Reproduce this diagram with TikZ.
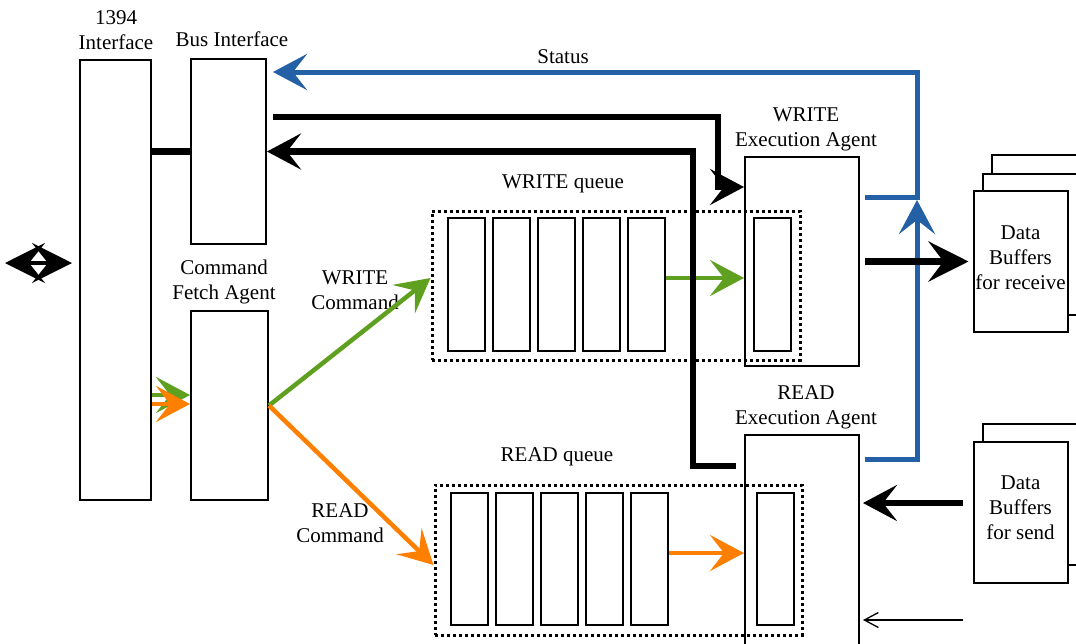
\documentclass[tikz,border=0pt]{standalone}
\usepackage{fontspec}
\setmainfont{Liberation Serif}
\usetikzlibrary{arrows.meta}
\definecolor{statusblue}{RGB}{35,96,165}
\definecolor{cmdgreen}{RGB}{96,160,32}
\definecolor{cmdorange}{RGB}{255,128,0}

\begin{document}
\begin{tikzpicture}[x=1pt,y=-1pt,
    font=\fontsize{21}{25}\selectfont,
    box/.style={draw,line width=2pt,inner sep=0pt},
    slot/.style={draw,line width=2pt,inner sep=0pt,minimum width=37pt},
    queue/.style={draw,line width=3pt,dash pattern=on 3pt off 3pt,inner sep=0pt},
    page/.style={draw,line width=2pt,fill=white,inner sep=0pt,minimum width=94pt,minimum height=141pt},
    lbl/.style={align=center,inner sep=0pt},
    barb/.tip={Stealth[length=34pt,width=36pt,inset=14pt]},
    bigbarb/.tip={Stealth[length=40pt,width=40pt,inset=15pt]},
    heavy/.style={line width=6.5pt},
    status/.style={statusblue,line width=5pt},
    wcmd/.style={cmdgreen,line width=4.5pt},
    rcmd/.style={cmdorange,line width=4.5pt}]
    \clip (0,0) rectangle (1076,643);

    \node[box,minimum width=71pt,minimum height=440pt] (iface) at (115.5,280) {};
    \node[box,minimum width=75pt,minimum height=185pt] (bus) at (228.5,151.5) {};
    \node[box,minimum width=77pt,minimum height=189pt] (fetch) at (229.5,405.5) {};
    \node[queue,minimum width=368pt,minimum height=149pt] (wqueue) at (616,285.5) {};
    \node[queue,minimum width=367pt,minimum height=150pt] (rqueue) at (618.5,560) {};
    \node[box,minimum width=114pt,minimum height=209pt] (wexec) at (802,261.5) {};
    \node[box,minimum width=114pt,minimum height=225pt] (rexec) at (802,547.5) {};

    \foreach \i/\x in {1/466.5,2/511.5,3/556.5,4/601.5,5/646.5,6/772}
        \node[slot,minimum height=133pt] (wq\i) at (\x,284.5) {};
    \foreach \i/\x in {1/469.5,2/514.5,3/559.5,4/604.5,5/649,6/775}
        \node[slot,minimum height=132pt] (rq\i) at (\x,559) {};

    \node[page] (recvback) at (1039,225.5) {};
    \node[page] (recvmid) at (1030,244.5) {};
    \node[page] (recv) at (1020.5,261.5) {};
    \node[page] (sendback) at (1030,494.5) {};
    \node[page] (send) at (1020.5,512.5) {};
    \node[lbl] (recvtxt) at ([yshift=4pt]recv.center) {Data\\Buffers\\for receive};
    \node[lbl] (sendtxt) at ([yshift=5pt]send.center) {Data\\Buffers\\for send};

    \node[lbl] (ifacelbl) at (116,30.5) {1394\\Interface};
    \node[lbl] (buslbl) at (232,39) {Bus Interface};
    \node[lbl] (fetchlbl) at (224,281.5) {Command\\Fetch Agent};
    \node[lbl] (statuslbl) at (563,57) {Status};
    \node[lbl] (wqlbl) at (563,184) {WRITE queue};
    \node[lbl] (rqlbl) at (557,457) {READ queue};
    \node[lbl] (wexeclbl) at (806,129.5) {WRITE\\Execution Agent};
    \node[lbl] (rexeclbl) at (806,407.5) {READ\\Execution Agent};
    \node[lbl] (wcmdlbl) at (355,290.5) {WRITE\\Command};
    \node[lbl] (rcmdlbl) at (340,523.5) {READ\\Command};

    \coordinate (extl) at (5,263);
    \coordinate (extr) at (72,263);
    \coordinate (wturn) at (718,117);
    \coordinate (rturn) at (693,466);
    \coordinate (stop) at (917,72);
    \coordinate (sjoin) at (917,197);
    \coordinate (rstat) at (917,459);
    \coordinate (feed) at (963,620);

    \draw[line width=4pt,{Stealth[length=40pt,width=40pt,inset=16pt]}-{Stealth[length=40pt,width=40pt,inset=16pt]}] (extl) -- (extr);
    \draw[heavy] (iface.east |- bus.west) -- (bus.west);
    \draw[wcmd,-barb] ([yshift=10.5pt]iface.east |- fetch.west) -- ([yshift=10.5pt]fetch.west);
    \draw[rcmd,-barb] ([yshift=1.5pt]iface.east |- fetch.west) -- ([yshift=1.5pt]fetch.west);
    \draw[wcmd,-barb] (fetch.east) -- ([yshift=7.5pt]wqueue.west);
    \draw[rcmd,-barb] (fetch.east) -- ([yshift=-5pt]rqueue.west);
    \draw[wcmd,-barb] ([yshift=6.5pt]wq5.east) -- ([yshift=6.5pt]wq5.east -| wexec.west);
    \draw[rcmd,-barb] ([yshift=6pt]rq5.east) -- ([yshift=6pt]rq5.east -| rexec.west);

    \draw[status,-barb] ([xshift=5pt]wexec.east |- sjoin) -- (sjoin) -- (stop) -- ([xshift=6pt]bus.east |- stop);
    \draw[status,-barb] ([xshift=5pt]rexec.east |- rstat) -- (rstat) -- ([yshift=-3pt]sjoin);

    \draw[heavy,-barb] ([xshift=6pt]bus.east |- wturn) -- (wturn) |- ([yshift=74.5pt]wexec.west);
    \draw[heavy,-barb] ([xshift=-8pt]rexec.west |- rturn) -- (rturn) |- (bus.east);
    \draw[heavy,line width=7pt,-bigbarb] ([xshift=5pt]wexec.east) -- ([xshift=-4pt]wexec.east -| recv.west);
    \draw[heavy,-barb] ([xshift=-10pt,yshift=9.5pt]send.west) -- ([xshift=3pt,yshift=9.5pt]send.west -| rexec.east);
    \draw[line width=1.3pt,-{Straight Barb[length=14pt,width=15pt]}] (feed) -- ([xshift=3pt]feed -| rexec.east);
\end{tikzpicture}
\end{document}
